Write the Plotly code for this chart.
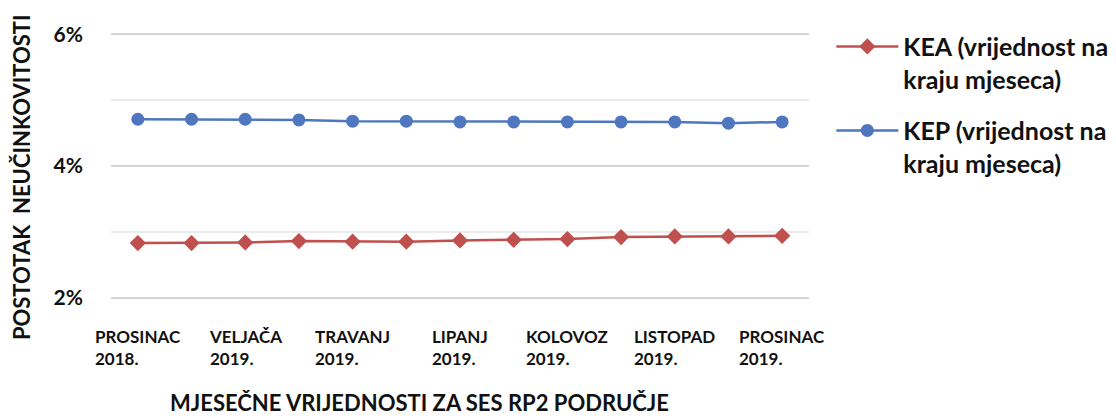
import plotly.graph_objects as go

months = ["PROSINAC 2018.", "SIJEČANJ 2019.", "VELJAČA 2019.", "OŽUJAK 2019.", "TRAVANJ 2019.",
          "SVIBANJ 2019.", "LIPANJ 2019.", "SRPANJ 2019.", "KOLOVOZ 2019.", "RUJAN 2019.",
          "LISTOPAD 2019.", "STUDENI 2019.", "PROSINAC 2019."]
kea = [2.83, 2.83, 2.84, 2.86, 2.85, 2.85, 2.87, 2.88, 2.89, 2.92, 2.93, 2.93, 2.94]
kep = [4.71, 4.71, 4.71, 4.70, 4.68, 4.68, 4.67, 4.67, 4.67, 4.67, 4.67, 4.65, 4.67]
label_idx = [0, 2, 4, 6, 8, 10, 12]
label_text = ["PROSINAC<br>2018.", "VELJAČA<br>2019.", "TRAVANJ<br>2019.", "LIPANJ<br>2019.",
              "KOLOVOZ<br>2019.", "LISTOPAD<br>2019.", "PROSINAC<br>2019."]
y_major = [2, 4, 6]
y_major_text = ["2%", "4%", "6%"]
y_minor = [3, 5]

FONT = "Lato"
TXT = "#111111"
RED = "#C0504D"
BLUE = "#4F76BE"

fig = go.Figure()
fig.add_trace(go.Scatter(
    x=months, y=kea, mode="lines+markers", name="KEA (vrijednost na<br>kraju mjeseca)",
    line=dict(color=RED, width=2.5), marker=dict(symbol="diamond", size=12.5, color=RED),
    legendgroup="a"))
fig.add_trace(go.Scatter(
    x=months, y=kep, mode="lines+markers", name="KEP (vrijednost na<br>kraju mjeseca)",
    line=dict(color=BLUE, width=2.5), marker=dict(symbol="circle", size=13, color=BLUE),
    legendgroup="b"))

for i, t in zip(label_idx, label_text):
    fig.add_annotation(x=months[i], y=-0.1722, xref="x", yref="paper", text=t,
                       showarrow=False, align="left", xanchor="center", yanchor="middle",
                       font=dict(family=FONT, size=17, color=TXT, weight="bold"))

fig.add_annotation(x=-0.1285, y=0.46, xref="paper", yref="paper",
                   text="POSTOTAK  NEUČINKOVITOSTI", textangle=-90, showarrow=False,
                   xanchor="center", yanchor="middle",
                   font=dict(family=FONT, size=22, color=TXT, weight="bold"))
fig.add_annotation(x=0.4417, y=-0.375, xref="paper", yref="paper",
                   text="MJESEČNE VRIJEDNOSTI ZA SES RP2 PODRUČJE", showarrow=False,
                   xanchor="center", yanchor="middle",
                   font=dict(family=FONT, size=22, color=TXT, weight="bold"))

fig.update_layout(
    width=1116, height=418,
    margin=dict(l=111, r=307, t=31, b=117, autoexpand=False),
    paper_bgcolor="white", plot_bgcolor="white",
    font=dict(family=FONT, color=TXT),
    xaxis=dict(type="category", showticklabels=False, showgrid=False, zeroline=False,
               showline=False, range=[-0.5, 12.5]),
    yaxis=dict(range=[1.95, 6.05], tickvals=y_major, ticktext=y_major_text,
               showgrid=True, gridcolor="#d3d3d3", gridwidth=2, zeroline=False, showline=False,
               ticklabelstandoff=27,
               tickfont=dict(family=FONT, size=21, color=TXT, weight="bold"),
               minor=dict(tickvals=y_minor, showgrid=True, gridcolor="#ebebeb", gridwidth=2)),
    showlegend=True,
    legend=dict(x=1.032, xanchor="left", y=1.027, yanchor="top", valign="top",
                itemwidth=62, tracegroupgap=16, bgcolor="rgba(0,0,0,0)",
                font=dict(family=FONT, size=25, color=TXT, weight="bold")),
)

fig.write_html("out.html", config={"displayModeBar": False},
               post_script="document.body.style.margin='0';")
